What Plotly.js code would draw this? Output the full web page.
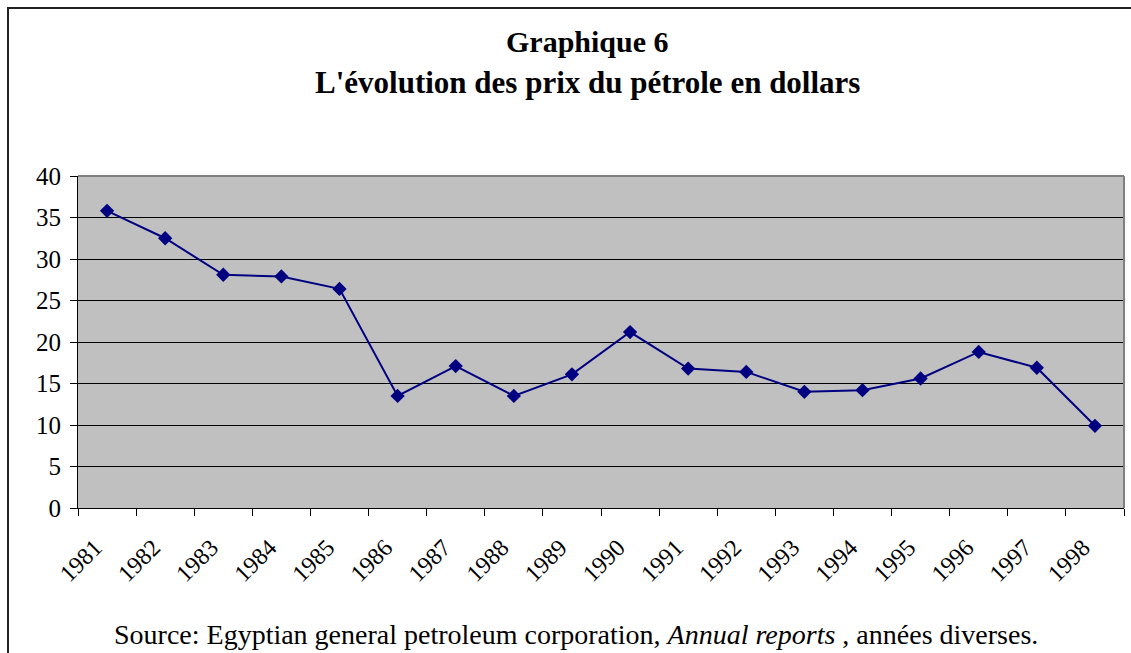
<!DOCTYPE html>
<html>
<head>
<meta charset="utf-8">
<script src="https://cdn.plot.ly/plotly-3.0.1.min.js"></script>
<style>
html,body{margin:0;padding:0;background:#fff;overflow:hidden;}
#chart{width:1131px;height:653px;position:relative;}
#frame{position:absolute;left:7px;top:7px;width:1130px;height:700px;border-left:2px solid #222;border-top:2px solid #222;pointer-events:none;}
#fontwarm{position:absolute;left:0;top:0;opacity:0;font-family:'Liberation Serif';font-size:24px;pointer-events:none;}
</style>
</head>
<body>
<div id="fontwarm">Source: <b>Graphique</b> <i>Annual</i> 1981</div>
<div id="chart"></div>
<div id="frame"></div>
<script>
const years = ["1981","1982","1983","1984","1985","1986","1987","1988","1989","1990","1991","1992","1993","1994","1995","1996","1997","1998"];
const prices = [35.8, 32.5, 28.1, 27.9, 26.4, 13.5, 17.1, 13.5, 16.1, 21.2, 16.8, 16.4, 14.0, 14.2, 15.6, 18.8, 16.9, 9.9];
const yTicks = [0,5,10,15,20,25,30,35,40];

const serif = "Liberation Serif";

const trace = {
  x: years,
  y: prices,
  type: "scatter",
  mode: "lines+markers",
  line: {color: "#000080", width: 2},
  marker: {symbol: "diamond", size: 11, color: "#000080"},
  hoverinfo: "x+y"
};

const layout = {
  width: 1131,
  height: 653,
  margin: {l: 78, r: 7, t: 176, b: 145},
  paper_bgcolor: "#ffffff",
  plot_bgcolor: "#C0C0C0",
  showlegend: false,
  font: {family: serif, color: "#000", size: 22},
  xaxis: {
    type: "category",
    range: [-0.5, 17.5],
    tickson: "boundaries",
    ticks: "outside",
    ticklen: 7,
    tickcolor: "#000",
    tickwidth: 1,
    tickangle: -45,
    showline: true,
    linecolor: "#000",
    linewidth: 1,
    showgrid: false,
    tickfont: {family: serif, size: 24, color: "#000"},
    ticklabelshift: -12,
    ticklabelstandoff: 15,
    fixedrange: true
  },
  yaxis: {
    range: [0, 40],
    tickvals: yTicks,
    ticktext: yTicks.map(String),
    ticks: "outside",
    ticklen: 7,
    tickcolor: "#000",
    tickwidth: 1,
    showline: true,
    linecolor: "#000",
    linewidth: 1,
    showgrid: true,
    gridcolor: "#000",
    gridwidth: 1,
    zeroline: false,
    tickfont: {family: serif, size: 25, color: "#000"},
    ticklabelstandoff: 4,
    fixedrange: true
  },
  shapes: [
    {type: "line", xref: "paper", yref: "paper", x0: 0, x1: 1, y0: 1, y1: 1, line: {color: "#808080", width: 2}},
    {type: "line", xref: "paper", yref: "paper", x0: 1, x1: 1, y0: 0, y1: 1, line: {color: "#808080", width: 2}}
  ],
  annotations: [
    {text: "<b>Graphique 6</b>", xref: "paper", yref: "paper", x: (587-78)/1046, y: 1 + (176-42)/332, xanchor: "center", yanchor: "middle", showarrow: false, font: {family: serif, size: 30, color: "#000"}},
    {text: "<b>L'évolution des prix du pétrole en dollars</b>", xref: "paper", yref: "paper", x: (587-78)/1046, y: 1 + (176-82)/332, xanchor: "center", yanchor: "middle", showarrow: false, font: {family: serif, size: 31, color: "#000"}},
    {text: "Source: Egyptian general petroleum corporation, <i>Annual reports</i> , années diverses.", xref: "paper", yref: "paper", x: (576-78)/1046, y: -(634-508)/332, xanchor: "center", yanchor: "middle", showarrow: false, font: {family: serif, size: 28, color: "#000"}}
  ]
};

Plotly.newPlot("chart", [trace], layout, {displayModeBar: false});
if (document.fonts && document.fonts.load) {
  Promise.all([
    document.fonts.load("24px 'Liberation Serif'"),
    document.fonts.load("bold 24px 'Liberation Serif'"),
    document.fonts.load("italic 24px 'Liberation Serif'")
  ]).then(function(){ Plotly.relayout("chart", {}); });
}
</script>
</body>
</html>
